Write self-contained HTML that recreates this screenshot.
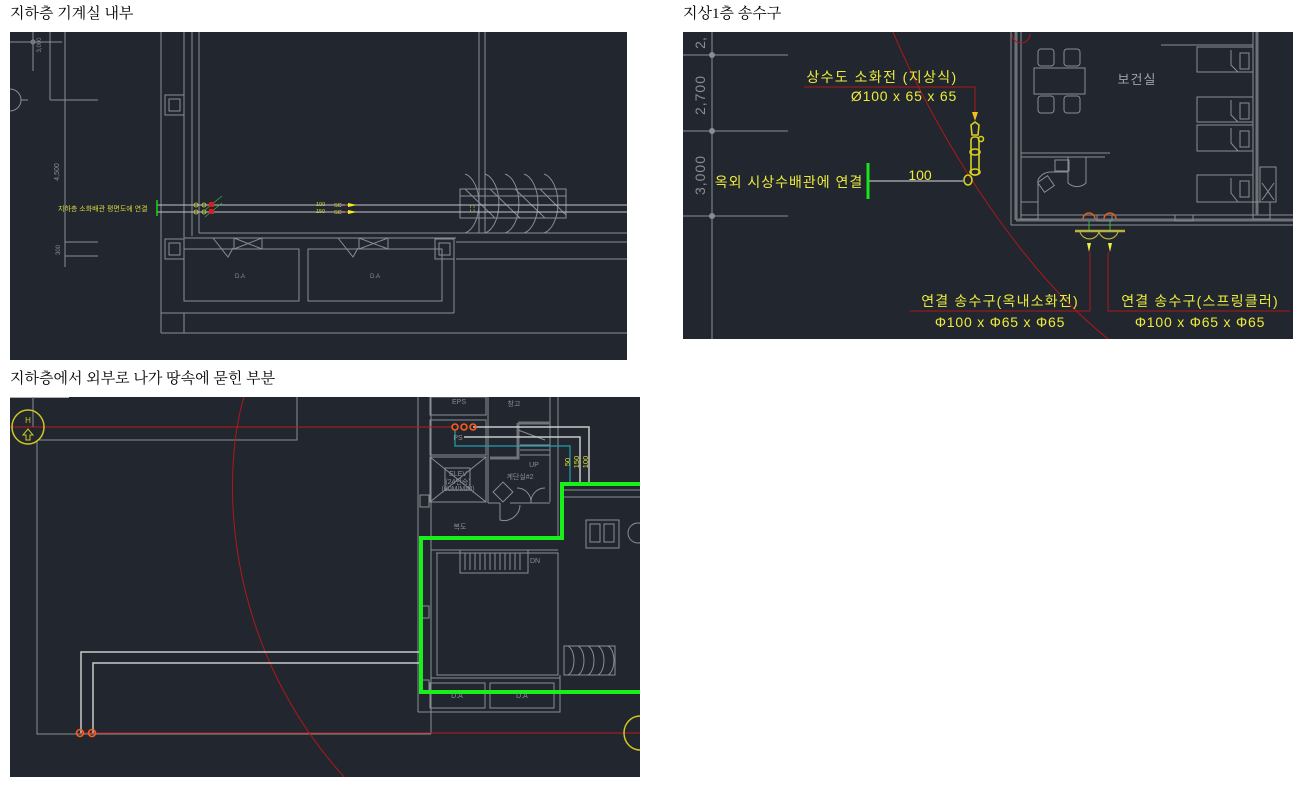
<!DOCTYPE html>
<html><head><meta charset="utf-8">
<style>
html,body{margin:0;padding:0;background:#fff;width:1298px;height:785px;overflow:hidden}
.t{position:absolute;font-family:"Liberation Serif","Noto Serif CJK SC",serif;font-size:15px;color:#000;line-height:18px}
svg{position:absolute;left:0;top:0}
</style></head><body>
<div class="t" style="left:10px;top:5px">지하층 기계실 내부</div>
<div class="t" style="left:683px;top:5px">지상1층 송수구</div>
<div class="t" style="left:10px;top:370px">지하층에서 외부로 나가 땅속에 묻힌 부분</div>
<svg width="1298" height="785" viewBox="0 0 1298 785" font-family="Liberation Sans,Noto Sans CJK KR,sans-serif">
<defs>
<clipPath id="c1"><rect x="10" y="32" width="617" height="328"/></clipPath>
<clipPath id="c2"><rect x="683" y="32" width="610" height="307"/></clipPath>
<clipPath id="c3"><rect x="10" y="397" width="630" height="380"/></clipPath>
</defs>
<!-- PANEL 1 -->
<rect x="10" y="32" width="617" height="328" fill="#21262f"/>
<g clip-path="url(#c1)" fill="none" stroke="#8a8d93" stroke-width="1">
<line x1="33" y1="32" x2="33" y2="71"/><line x1="10" y1="42" x2="62" y2="42"/><circle cx="33" cy="42" r="2"/>
<line x1="50" y1="32" x2="50" y2="100"/><line x1="50" y1="100" x2="98" y2="100"/>
<line x1="65" y1="32" x2="65" y2="267"/><line x1="65" y1="242" x2="98" y2="242"/><line x1="65" y1="256" x2="98" y2="256"/>
<circle cx="10" cy="100" r="11"/><line x1="21" y1="100" x2="28" y2="100"/>
<line x1="161" y1="32" x2="161" y2="333"/>
<line x1="184" y1="32" x2="184" y2="238"/><line x1="192" y1="32" x2="192" y2="236"/><line x1="199" y1="32" x2="199" y2="233"/>
<line x1="479" y1="32" x2="479" y2="233"/><line x1="485" y1="32" x2="485" y2="233"/>
<line x1="199" y1="233" x2="627" y2="233"/>
<line x1="184" y1="238" x2="456" y2="238"/><line x1="456" y1="242" x2="627" y2="242"/><line x1="456" y1="259" x2="627" y2="259"/>
<line x1="454" y1="238" x2="454" y2="313"/>
<line x1="161" y1="313" x2="454" y2="313"/><line x1="161" y1="333" x2="627" y2="333"/><line x1="184" y1="313" x2="184" y2="333"/>
<rect x="184" y="249" width="115" height="52"/><rect x="308" y="249" width="134" height="52"/>
<rect x="165" y="95" width="19" height="20"/><rect x="169" y="99" width="11" height="12"/>
<rect x="165" y="239" width="19" height="20"/><rect x="169" y="243" width="11" height="12"/>
<rect x="435" y="239" width="19" height="20"/><rect x="439" y="243" width="11" height="12"/>
<path d="M213,238 L228,257 L233,248 M234,238 H262 V249 H234 Z M234,238 L262,249 M262,238 L234,249"/>
<path d="M338,238 L353,257 L358,248 M359,238 H388 V249 H359 Z M359,238 L388,249 M388,238 L359,249"/>
<rect x="460" y="189" width="106" height="29"/><line x1="460" y1="196" x2="566" y2="196"/>
<path d="M465,174 A17,30 0 0 1 465,233 M485,174 A17,30 0 0 1 485,233 M505,174 A17,30 0 0 1 505,233 M524,174 A17,30 0 0 1 524,233 M544,174 A17,30 0 0 1 544,233"/>
<path d="M465,189 L495,218 M490,189 L520,218 M515,189 L545,218 M540,189 L566,215"/>
<line x1="157" y1="205" x2="627" y2="205" stroke="#c4c5c8"/><line x1="157" y1="212" x2="627" y2="212" stroke="#c4c5c8"/>
</g>
<g clip-path="url(#c1)">
<text x="59" y="172" fill="#8a8d93" font-size="7" transform="rotate(-90 59 172)" text-anchor="middle">4,500</text>
<text x="60" y="250" fill="#8a8d93" font-size="6" transform="rotate(-90 60 250)" text-anchor="middle">300</text>
<text x="41" y="45" fill="#8a8d93" font-size="6" transform="rotate(-90 41 45)" text-anchor="middle">3,000</text>
<text x="240" y="278" fill="#8a8d93" font-size="6" text-anchor="middle">D.A</text>
<text x="375" y="278" fill="#8a8d93" font-size="6" text-anchor="middle">D.A</text>
<line x1="157" y1="200" x2="157" y2="216" stroke="#19d619" stroke-width="1.5"/>
<text x="58" y="211" fill="#d8d83a" font-size="7">지하층 소화배관 평면도에 연결</text>
<g stroke="#d8d83a" fill="none" stroke-width="0.8"><circle cx="196" cy="205" r="2"/><circle cx="196" cy="212" r="2"/><circle cx="204" cy="205" r="2"/><circle cx="204" cy="212" r="2"/></g>
<g stroke="#3fb03f" stroke-width="0.8"><line x1="205" y1="210" x2="222" y2="196"/><line x1="205" y1="217" x2="222" y2="203"/></g>
<g fill="#d02020"><rect x="209" y="202" width="5" height="5"/><rect x="209" y="209" width="5" height="5"/></g>
<text x="316" y="206" fill="#d8d83a" font-size="5.5">100</text><text x="316" y="213" fill="#d8d83a" font-size="5.5">150</text>
<text x="334" y="207" fill="#d8d83a" font-size="5.5">SC</text><text x="334" y="214" fill="#d8d83a" font-size="5.5">SC</text>
<path d="M348,203 L357,205 L348,207 Z M348,210 L357,212 L348,214 Z" fill="#f0f020"/>
<rect x="345" y="204" width="2" height="2" fill="#d02020"/><rect x="345" y="211" width="2" height="2" fill="#d02020"/>
<text x="470" y="210" fill="#d8d83a" font-size="6">¦ ¦</text>
</g>

<!-- PANEL 2 -->
<rect x="683" y="32" width="610" height="307" fill="#21262f"/>
<g clip-path="url(#c2)" fill="none" stroke="#8a8d93">
<line x1="712" y1="32" x2="712" y2="339"/>
<line x1="683" y1="55" x2="788" y2="55"/><line x1="683" y1="131" x2="788" y2="131"/><line x1="683" y1="216" x2="788" y2="216"/>
<line x1="1011" y1="32" x2="1011" y2="225"/><line x1="1016" y1="32" x2="1016" y2="220" stroke-width="3" stroke="#6e7177"/><line x1="1021" y1="32" x2="1021" y2="215"/>
<line x1="1011" y1="225" x2="1293" y2="225"/><line x1="1016" y1="220" x2="1293" y2="220" stroke-width="3" stroke="#6e7177"/><line x1="1021" y1="215" x2="1293" y2="215"/>
<line x1="1253" y1="32" x2="1253" y2="215"/><line x1="1257" y1="32" x2="1257" y2="215" stroke-width="3" stroke="#6e7177"/>
<rect x="1034" y="68" width="51" height="26"/>
<rect x="1038" y="49" width="16" height="17" rx="3"/><rect x="1064" y="49" width="16" height="17" rx="3"/>
<rect x="1038" y="96" width="16" height="17" rx="3"/><rect x="1064" y="96" width="16" height="17" rx="3"/>
<line x1="1161" y1="45" x2="1253" y2="45"/>
<rect x="1197" y="47" width="56" height="25"/><rect x="1197" y="97" width="56" height="25"/><rect x="1197" y="125" width="56" height="26"/><rect x="1197" y="175" width="56" height="27"/>
<path d="M1231,50 V65 L1238,72 M1231,100 V115 L1238,122 M1231,128 V143 L1238,151 M1231,178 V193 L1238,202"/>
<rect x="1240" y="53" width="9" height="16"/><rect x="1240" y="103" width="9" height="16"/><rect x="1240" y="131" width="9" height="16"/><rect x="1240" y="181" width="9" height="16"/>
<line x1="1021" y1="153" x2="1110" y2="153"/><line x1="1021" y1="157" x2="1105" y2="157"/>
<rect x="1055" y="160" width="14" height="11"/><path d="M1068,157 V183 A13,13 0 0 0 1086,183 V157"/>
<path d="M1038,205 V180 A14,14 0 0 1 1050,172 H1068"/><rect x="1040" y="178" width="12" height="12" transform="rotate(-35 1046 184)"/>
<rect x="1021" y="202" width="17" height="17"/><rect x="1253" y="202" width="17" height="17"/>
<rect x="1260" y="167" width="16" height="35"/><path d="M1262,183 L1274,200 M1274,183 L1262,200"/>
<rect x="1097" y="215" width="15" height="6"/><rect x="1175" y="215" width="18" height="6"/>
</g>
<g clip-path="url(#c2)">
<text x="705" y="43" fill="#8a8d93" font-size="14" transform="rotate(-90 705 43)" text-anchor="middle">2,</text>
<text x="705" y="95" fill="#8a8d93" font-size="14" letter-spacing="1" transform="rotate(-90 705 95)" text-anchor="middle">2,700</text>
<text x="705" y="175" fill="#8a8d93" font-size="14" letter-spacing="1" transform="rotate(-90 705 175)" text-anchor="middle">3,000</text>
<g fill="#8a8d93"><circle cx="712" cy="55" r="3"/><circle cx="712" cy="131" r="3"/><circle cx="712" cy="216" r="3"/></g>
<path d="M893,32 C930,120 1010,260 1108,339" stroke="#b01818" fill="none"/>
<path d="M1012,34 A8,8 0 0 0 1030,34" stroke="#b01818" fill="none"/>
<text x="1137" y="84" fill="#9ea1a6" font-size="13" letter-spacing="1" text-anchor="middle">보건실</text>
<text x="882" y="82" fill="#ecec3c" font-size="14" letter-spacing="1.4" text-anchor="middle">상수도 소화전 (지상식)</text>
<text x="904" y="101" fill="#ecec3c" font-size="14" letter-spacing="0.8" text-anchor="middle">Ø100 x 65 x 65</text>
<path d="M804,87 H975 V112" stroke="#b01818" fill="none"/>
<path d="M972,112 L978,112 L975,121 Z" fill="#f0c020"/>
<g stroke="#d8d020" fill="none" stroke-width="1.6">
<path d="M971,125 L975,122 L979,125 L978,135 L972,135 Z"/><rect x="971" y="137" width="8" height="38" rx="3"/>
<ellipse cx="975" cy="152" rx="5" ry="3"/><ellipse cx="975" cy="172" rx="5" ry="3"/><circle cx="981" cy="139" r="2.5"/>
<ellipse cx="968" cy="180" rx="4" ry="5"/>
</g>
<text x="789" y="187" fill="#ecec3c" font-size="14" letter-spacing="1" text-anchor="middle">옥외 시상수배관에 연결</text>
<line x1="868" y1="163" x2="868" y2="199" stroke="#19e619" stroke-width="3"/>
<line x1="869" y1="181" x2="965" y2="181" stroke="#9ea1a6" stroke-width="1.5"/>
<text x="920" y="180" fill="#ecec3c" font-size="14" text-anchor="middle">100</text>
<g fill="none" stroke="#d86020" stroke-width="1.5"><path d="M1083,219 A6,6 0 1 1 1095,219"/><path d="M1104,219 A6,6 0 1 1 1116,219"/></g>
<line x1="1089" y1="221" x2="1089" y2="231" stroke="#2fc02f"/><line x1="1110" y1="221" x2="1110" y2="231" stroke="#2fc02f"/>
<line x1="1075" y1="231" x2="1125" y2="231" stroke="#b8b040" stroke-width="2.5"/>
<path d="M1080,232 A10,10 0 0 0 1099,232 A10,10 0 0 0 1118,232" stroke="#b8b040" fill="none" stroke-width="1.2"/>
<path d="M1087,243 L1091,243 L1089,252 Z M1108,243 L1112,243 L1110,252 Z" fill="#f0f040"/>
<text x="1000" y="306" fill="#ecec3c" font-size="14" letter-spacing="1.2" text-anchor="middle">연결 송수구(옥내소화전)</text>
<text x="1000" y="327" fill="#ecec3c" font-size="14" letter-spacing="0.8" text-anchor="middle">Φ100 x Φ65 x Φ65</text>
<text x="1200" y="306" fill="#ecec3c" font-size="14" letter-spacing="1.2" text-anchor="middle">연결 송수구(스프링클러)</text>
<text x="1200" y="327" fill="#ecec3c" font-size="14" letter-spacing="0.8" text-anchor="middle">Φ100 x Φ65 x Φ65</text>
<path d="M910,311 H1090 V252 M1108,252 V311 H1290" stroke="#b01818" fill="none"/>
</g>

<!-- PANEL 3 -->
<rect x="10" y="397" width="630" height="380" fill="#21262f"/>
<g clip-path="url(#c3)" fill="none" stroke="#8a8d93">
<line x1="10" y1="397" x2="69" y2="397" stroke="#b0b0b0" stroke-width="2"/>
<line x1="33" y1="397" x2="33" y2="427"/>
<path d="M37,440 H297 V397"/><path d="M37,440 V734 H431"/>
<line x1="418" y1="397" x2="418" y2="712"/><line x1="431" y1="397" x2="431" y2="734"/>
<rect x="430" y="397" width="56" height="18"/><rect x="430" y="420" width="56" height="35"/>
<rect x="430" y="457" width="56" height="45"/><path d="M430,457 L486,502 M486,457 L430,502"/>
<rect x="445" y="468" width="25" height="22"/>
<line x1="488" y1="397" x2="488" y2="503"/><line x1="550" y1="397" x2="550" y2="502"/><line x1="558" y1="397" x2="558" y2="540"/>
<path d="M518,423 H550 M518,423 V458 H490" stroke-width="3" stroke="#70737a"/>
<path d="M518,430 L545,440 M520,445 H550 M520,450 H550 M520,455 H550"/>
<path d="M488,503 H500 M510,503 H550 M500,503 V520 A16,16 0 0 0 520,505"/>
<path d="M531,503 A14,14 0 0 1 545,488 M531,503 A14,14 0 0 0 517,488"/>
<rect x="496" y="485" width="14" height="14" transform="rotate(45 503 492)"/>
<line x1="431" y1="550" x2="558" y2="550"/><line x1="436" y1="553" x2="558" y2="553"/>
<rect x="437" y="553" width="121" height="122"/>
<rect x="460" y="550" width="68" height="23"/>
<path d="M465,553 V570 M470,553 V570 M475,553 V570 M480,553 V570 M485,553 V570 M490,553 V570 M495,553 V570 M500,553 V570 M505,553 V570 M510,553 V570 M515,553 V570 M520,553 V570"/>
<rect x="430" y="683" width="55" height="25"/><rect x="490" y="683" width="64" height="25"/>
<path d="M418,712 H560 V675"/>
<line x1="431" y1="678" x2="560" y2="678"/>
<line x1="562" y1="490" x2="640" y2="490"/><line x1="562" y1="497" x2="640" y2="497"/>
<rect x="586" y="520" width="33" height="28"/><rect x="590" y="524" width="10" height="18"/><rect x="604" y="524" width="10" height="18"/>
<circle cx="638" cy="533" r="10"/>
<rect x="564" y="646" width="51" height="29"/>
<path d="M568,646 A8,15 0 0 1 568,675 M578,646 A8,15 0 0 1 578,675 M588,646 A8,15 0 0 1 588,675 M598,646 A8,15 0 0 1 598,675 M608,646 A8,15 0 0 1 608,675"/>
<rect x="420" y="606" width="9" height="12"/><rect x="420" y="680" width="9" height="12"/><rect x="420" y="495" width="9" height="12"/>
</g>
<g clip-path="url(#c3)">
<path d="M244,397 C222,470 220,640 345,778" stroke="#b01818" fill="none"/>
<line x1="10" y1="427" x2="452" y2="427" stroke="#c01818"/>
<line x1="80" y1="733" x2="640" y2="733" stroke="#c01818"/>
<ellipse cx="28" cy="427" rx="16" ry="17" stroke="#d0c820" fill="none" stroke-width="1.5"/>
<text x="28" y="423" fill="#d0c820" font-size="8" text-anchor="middle">H</text>
<path d="M28,429 L23,435 H26 V440 H30 V435 H33 Z" stroke="#d0c820" fill="none"/>
<ellipse cx="640" cy="733" rx="16" ry="17" stroke="#d0c820" fill="none" stroke-width="1.5"/>
<g stroke="#c9c9c9" fill="none" stroke-width="1.5">
<path d="M421,652 H81 V733"/><path d="M421,663 H93 V733"/>
<path d="M473,427 H589 V484"/><path d="M464,437 H580 V484"/>
</g>
<path d="M455,430 V446 H570 V484" stroke="#20a0b0" fill="none" stroke-width="1.2"/>
<g stroke="#ff5a1a" fill="none" stroke-width="1.6"><circle cx="455" cy="427" r="3"/><circle cx="464" cy="427" r="3"/><circle cx="473" cy="427" r="3"/><circle cx="80" cy="733" r="3.5"/><circle cx="92" cy="733" r="3.5"/></g>
<polyline points="640,484 562,484 562,538 421,538 421,692 640,692" stroke="#19f019" stroke-width="4" fill="none"/>
<g fill="#8a8d93" font-size="7" text-anchor="middle">
<text x="459" y="404">EPS</text><text x="514" y="406">창고</text><text x="458" y="440">PS</text>
<text x="458" y="476">ELEV</text><text x="458" y="484">(24인승)</text><text x="458" y="491">(60M/MIN)</text>
<text x="520" y="479">계단실#2</text><text x="534" y="467">UP</text><text x="460" y="529">복도</text><text x="535" y="563">DN</text>
<text x="457" y="698">D.A</text><text x="522" y="698">D.A</text>
</g>
<g fill="#e0e030" font-size="7.5" text-anchor="middle">
<text x="570" y="462" transform="rotate(-90 570 462)">50</text>
<text x="579" y="462" transform="rotate(-90 579 462)">150</text>
<text x="588" y="462" transform="rotate(-90 588 462)">100</text>
</g>
</g>
</svg>
</body></html>
